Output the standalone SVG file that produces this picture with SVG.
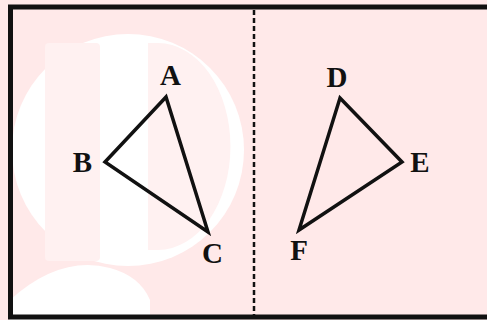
<svg xmlns="http://www.w3.org/2000/svg" width="487" height="320" viewBox="0 0 487 320">
<style>
.tri{fill:none;stroke:#111;stroke-width:3.5;stroke-linejoin:miter}
.lbl{font-family:"Liberation Serif","Times New Roman",serif;font-weight:bold;font-size:29px;fill:#111;text-anchor:middle}
.wm{fill:#ffffff}
.wp{fill:#fff1f1}
</style>
<rect x="0" y="0" width="487" height="320" fill="#ffe9e9"/>
<g id="watermark">
<circle class="wm" cx="128" cy="150" r="116"/>
<rect class="wp" x="45" y="43" width="55" height="218" rx="4"/>
<path class="wp" d="M148,43 L158,43 A70 100 0 0 1 158,250 L148,250 Z"/>
<path class="wm" d="M10,300 Q60,255 110,268 Q140,276 150,300 L150,320 L10,320 Z"/>
</g>
<rect id="frame" x="10.5" y="7" width="490" height="310" fill="none" stroke="#111" stroke-width="5"/>
<g id="connectors">
<line id="axis" x1="254" y1="10" x2="254" y2="315" stroke="#111" stroke-width="2.5" stroke-dasharray="5 3"/>
</g>
<g id="triangle-ABC">
<polygon class="tri" points="166,97 105,162 208,232"/>
</g>
<g id="triangle-DEF">
<polygon class="tri" points="340,98 402,162 299,230"/>
</g>
<g id="node-A"><text class="lbl" x="170.5" y="84.5">A</text></g>
<g id="node-B"><text class="lbl" x="82.5" y="171.5">B</text></g>
<g id="node-C"><text class="lbl" x="212.5" y="263">C</text></g>
<g id="node-D"><text class="lbl" x="337" y="86.5">D</text></g>
<g id="node-E"><text class="lbl" x="420" y="171.5">E</text></g>
<g id="node-F"><text class="lbl" x="299" y="260">F</text></g>
</svg>
